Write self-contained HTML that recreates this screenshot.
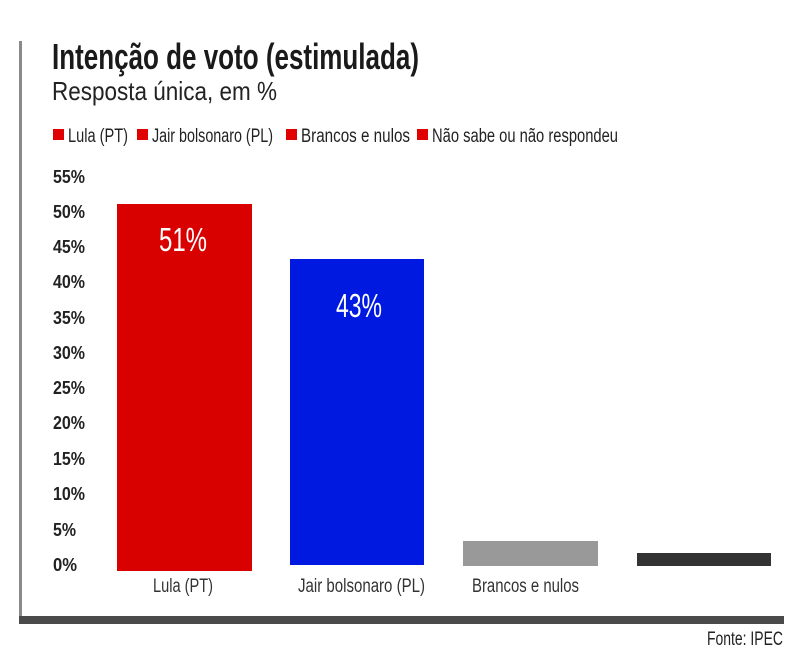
<!DOCTYPE html>
<html>
<head>
<meta charset="utf-8">
<style>
  html, body { margin: 0; padding: 0; background: #ffffff; }
  body { width: 803px; height: 661px; overflow: hidden; }
  svg { display: block; }
  text { font-family: "Liberation Sans Narrow", "Liberation Sans", sans-serif; }
</style>
</head>
<body>
<svg width="803" height="661" viewBox="0 0 803 661" xmlns="http://www.w3.org/2000/svg">
  <rect x="0" y="0" width="803" height="661" fill="#ffffff"/>

  <!-- frame -->
  <rect x="19" y="41" width="3" height="578" fill="#8a8a8a"/>
  <rect x="19" y="616" width="765" height="8" fill="#4a4a4a"/>

  <!-- title -->
  <text x="52" y="69" font-size="36" font-weight="bold" fill="#1a1a1a" textLength="367" lengthAdjust="spacingAndGlyphs">Intenção de voto (estimulada)</text>
  <text x="52" y="100" font-size="26" fill="#222222" textLength="225" lengthAdjust="spacingAndGlyphs">Resposta única, em %</text>

  <!-- legend -->
  <rect x="53" y="129" width="11" height="11" fill="#e00000"/>
  <text x="68" y="142" font-size="19" fill="#222" textLength="60" lengthAdjust="spacingAndGlyphs">Lula (PT)</text>
  <rect x="137" y="129" width="11" height="11" fill="#e00000"/>
  <text x="152" y="142" font-size="19" fill="#222" textLength="121" lengthAdjust="spacingAndGlyphs">Jair bolsonaro (PL)</text>
  <rect x="286" y="129" width="11" height="11" fill="#e00000"/>
  <text x="301" y="142" font-size="19" fill="#222" textLength="109" lengthAdjust="spacingAndGlyphs">Brancos e nulos</text>
  <rect x="417" y="129" width="11" height="11" fill="#e00000"/>
  <text x="432" y="142" font-size="19" fill="#222" textLength="186" lengthAdjust="spacingAndGlyphs">Não sabe ou não respondeu</text>

  <!-- y axis labels -->
  <g font-size="18" font-weight="bold" fill="#222">
    <text x="53" y="183" textLength="32" lengthAdjust="spacingAndGlyphs">55%</text>
    <text x="53" y="218" textLength="32" lengthAdjust="spacingAndGlyphs">50%</text>
    <text x="53" y="253" textLength="32" lengthAdjust="spacingAndGlyphs">45%</text>
    <text x="53" y="288" textLength="32" lengthAdjust="spacingAndGlyphs">40%</text>
    <text x="53" y="324" textLength="32" lengthAdjust="spacingAndGlyphs">35%</text>
    <text x="53" y="359" textLength="32" lengthAdjust="spacingAndGlyphs">30%</text>
    <text x="53" y="394" textLength="32" lengthAdjust="spacingAndGlyphs">25%</text>
    <text x="53" y="429" textLength="32" lengthAdjust="spacingAndGlyphs">20%</text>
    <text x="53" y="465" textLength="32" lengthAdjust="spacingAndGlyphs">15%</text>
    <text x="53" y="500" textLength="32" lengthAdjust="spacingAndGlyphs">10%</text>
    <text x="53" y="536" textLength="23" lengthAdjust="spacingAndGlyphs">5%</text>
    <text x="53" y="571" textLength="24" lengthAdjust="spacingAndGlyphs">0%</text>
  </g>

  <!-- bars -->
  <rect x="117" y="204" width="135" height="367" fill="#d90000"/>
  <rect x="290" y="259" width="134" height="306" fill="#0019e0"/>
  <rect x="463" y="541" width="135" height="25" fill="#999999"/>
  <rect x="637" y="553" width="134" height="13" fill="#333333"/>

  <!-- bar value labels -->
  <text x="159" y="251" font-size="33" fill="#ffffff" textLength="48" lengthAdjust="spacingAndGlyphs">51%</text>
  <text x="336" y="317" font-size="33" fill="#ffffff" textLength="46" lengthAdjust="spacingAndGlyphs">43%</text>

  <!-- x labels -->
  <g font-size="19" fill="#333">
    <text x="153" y="592" textLength="60" lengthAdjust="spacingAndGlyphs">Lula (PT)</text>
    <text x="298" y="592" textLength="127" lengthAdjust="spacingAndGlyphs">Jair bolsonaro (PL)</text>
    <text x="472" y="592" textLength="107" lengthAdjust="spacingAndGlyphs">Brancos e nulos</text>
  </g>

  <!-- source -->
  <text x="707" y="645" font-size="19" fill="#222" textLength="76" lengthAdjust="spacingAndGlyphs">Fonte: IPEC</text>
</svg>
</body>
</html>
